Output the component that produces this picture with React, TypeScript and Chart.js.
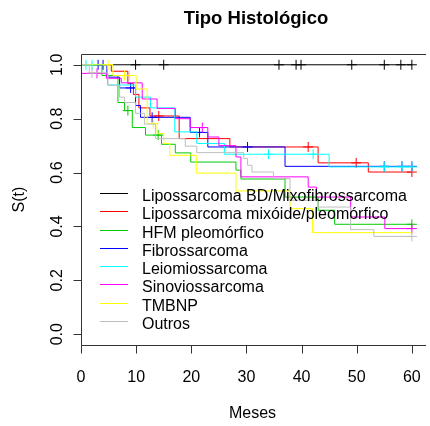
import React, { useEffect, useRef } from "react";
import { Chart, registerables } from "chart.js";

Chart.register(...registerables);

const TITLE = "Tipo Histológico";
const X_TITLE = "Meses";
const Y_TITLE = "S(t)";
const X_TICKS = [0, 10, 20, 30, 40, 50, 60];
const Y_TICKS = [0, 0.2, 0.4, 0.6, 0.8, 1.0];
const Y_TICK_LABELS = ["0.0", "0.2", "0.4", "0.6", "0.8", "1.0"];

const GROUPS = [
  "Lipossarcoma BD/Mixofibrossarcoma",
  "Lipossarcoma mixóide/pleomórfico",
  "HFM pleomórfico",
  "Fibrossarcoma",
  "Leiomiossarcoma",
  "Sinoviossarcoma",
  "TMBNP",
  "Outros",
];
const COLORS = ["#000000", "#FF0000", "#00CD00", "#0000FF", "#00FFFF", "#FF00FF", "#FFFF00", "#BEBEBE"];

// Black: Lipossarcoma BD/Mixofibrossarcoma
const T_BD = [0, 60];
const S_BD = [1, 1];
const C_BD = [9.9, 15, 35.9, 39, 39.9, 49.1, 55, 58, 60];

// Red: Lipossarcoma mixóide/pleomórfico
const T_MIX = [0, 5.5, 8.5, 9.5, 10.5, 12.5, 17.8, 27, 43, 52.1, 60];
const S_MIX = [1, 0.976, 0.93, 0.89, 0.84, 0.81, 0.726, 0.695, 0.636, 0.602, 0.602];
const C_MIX = [14.1, 41.2, 49.9, 60];

// Green: HFM pleomórfico
const T_HFM = [0, 3.8, 6.7, 7.9, 9.3, 11.7, 14.6, 17.1, 19.9, 28.1, 29, 37, 43, 46, 60];
const S_HFM = [1, 0.96, 0.86, 0.83, 0.767, 0.739, 0.705, 0.673, 0.639, 0.609, 0.576, 0.509, 0.46, 0.408, 0.408];
const C_HFM = [8.5, 14, 60];

// Blue: Fibrossarcoma
const T_FIB = [0, 4.7, 7, 9.9, 10.8, 19.8, 23, 37, 60];
const S_FIB = [1, 0.954, 0.914, 0.849, 0.805, 0.749, 0.695, 0.623, 0.623];
const C_FIB = [3.1, 4, 9, 12.9, 21.5, 30.2, 55, 58.2, 60];

// Cyan: Leiomiossarcoma
const T_LEI = [0, 4.8, 9.9, 12.6, 17, 21, 26, 45, 60];
const S_LEI = [1, 0.925, 0.88, 0.84, 0.751, 0.708, 0.668, 0.621, 0.621];
const C_LEI = [0.9, 2, 34, 42.1, 55, 58.2, 60];

// Magenta: Sinoviossarcoma
const T_SIN = [0, 4.6, 7.3, 11.1, 13.8, 17.1, 19.8, 23, 25, 28.1, 29, 41.2, 42.7, 48.9, 55.1, 60];
const S_SIN = [0.968, 0.95, 0.933, 0.873, 0.838, 0.8, 0.767, 0.732, 0.7, 0.658, 0.584, 0.546, 0.509, 0.435, 0.392, 0.392];
const C_SIN = [2.9, 22, 60];

// Yellow: TMBNP
const T_TMB = [0, 5.8, 10, 12, 13.8, 15, 16.1, 20.9, 28.1, 37.9, 42, 60];
const S_TMB = [1, 0.96, 0.91, 0.782, 0.745, 0.708, 0.664, 0.598, 0.532, 0.466, 0.377, 0.377];
const C_TMB = [4.9, 7.9, 8.8, 13.1];

// Gray: Outros
const T_OUT = [0, 1.5, 4.9, 7, 7.9, 9.9, 11.5, 13.5, 18.9, 21, 29.5, 30.2, 31, 34.9, 37.9, 43, 48.9, 53.1, 60];
const S_OUT = [1, 0.97, 0.924, 0.88, 0.86, 0.82, 0.78, 0.726, 0.698, 0.674, 0.652, 0.627, 0.602, 0.578, 0.497, 0.472, 0.388, 0.363, 0.363];
const C_OUT = [2, 60];

const SERIES_T = [T_BD, T_MIX, T_HFM, T_FIB, T_LEI, T_SIN, T_TMB, T_OUT];
const SERIES_S = [S_BD, S_MIX, S_HFM, S_FIB, S_LEI, S_SIN, S_TMB, S_OUT];
const SERIES_C = [C_BD, C_MIX, C_HFM, C_FIB, C_LEI, C_SIN, C_TMB, C_OUT];

const FONT = '"Liberation Sans", Arial, Helvetica, sans-serif';

function stepAt(T: number[], S: number[], t: number) {
  let v = S[0];
  for (let i = 0; i < T.length; i++) if (T[i] <= t) v = S[i];
  return v;
}

const decorPlugin = {
  id: "decor",
  afterDraw(chart: any) {
    const ctx = chart.ctx;
    const { left, right, top, bottom } = chart.chartArea;
    const xs = chart.scales.x;
    const ys = chart.scales.y;
    ctx.save();
    ctx.strokeStyle = "#333333";
    ctx.lineWidth = 1;
    const L = Math.round(left) + 0.5;
    const T = Math.round(top) + 0.5;
    const B = Math.round(bottom) + 0.5;
    ctx.beginPath();
    ctx.moveTo(right + 2, T);
    ctx.lineTo(L, T);
    ctx.lineTo(L, B);
    ctx.lineTo(right + 2, B);
    ctx.stroke();
    ctx.fillStyle = "#000000";
    ctx.font = `16px ${FONT}`;
    ctx.textAlign = "center";
    ctx.textBaseline = "alphabetic";
    X_TICKS.forEach((v) => {
      const px = Math.round(xs.getPixelForValue(v)) + 0.5;
      ctx.beginPath();
      ctx.moveTo(px, B);
      ctx.lineTo(px, B + 8);
      ctx.stroke();
      ctx.fillText(String(v), xs.getPixelForValue(v), 382);
    });
    Y_TICKS.forEach((v, i) => {
      const py = Math.round(ys.getPixelForValue(v)) + 0.5;
      ctx.beginPath();
      ctx.moveTo(L, py);
      ctx.lineTo(L - 8, py);
      ctx.stroke();
      ctx.save();
      ctx.translate(62, ys.getPixelForValue(v));
      ctx.rotate(-Math.PI / 2);
      ctx.fillText(Y_TICK_LABELS[i], 0, 0);
      ctx.restore();
    });
    ctx.fillText(X_TITLE, (left + right) / 2, 418);
    ctx.save();
    ctx.translate(24, (top + bottom) / 2);
    ctx.rotate(-Math.PI / 2);
    ctx.fillText(Y_TITLE, 0, 0);
    ctx.restore();
    ctx.font = `bold 18.5px ${FONT}`;
    ctx.fillText(TITLE, 256, 24);
    ctx.font = `16px ${FONT}`;
    ctx.textAlign = "left";
    GROUPS.forEach((name, i) => {
      const ry = Math.round(192.9 + 18.3 * i) + 0.5;
      ctx.strokeStyle = COLORS[i];
      ctx.beginPath();
      ctx.moveTo(100, ry);
      ctx.lineTo(128, ry);
      ctx.stroke();
      ctx.fillStyle = "#000000";
      ctx.fillText(name, 142, ry + 7);
    });
    ctx.restore();
  },
};

export default function App() {
  const ref = useRef<HTMLCanvasElement | null>(null);
  useEffect(() => {
    document.body.style.margin = "0";
    if (!ref.current) return;
    const datasets: any[] = [];
    GROUPS.forEach((name, i) => {
      datasets.push({
        label: name,
        data: SERIES_T[i].map((t, j) => ({ x: t, y: SERIES_S[i][j] })),
        borderColor: COLORS[i],
        backgroundColor: COLORS[i],
        borderWidth: 1,
        stepped: "before",
        pointRadius: 0,
        fill: false,
        order: 2 * (GROUPS.length - i) + 1,
      });
      datasets.push({
        label: name + " censor",
        data: SERIES_C[i].map((t) => ({ x: t, y: stepAt(SERIES_T[i], SERIES_S[i], t) })),
        borderColor: COLORS[i],
        backgroundColor: COLORS[i],
        showLine: false,
        pointStyle: "cross",
        pointRadius: 5,
        pointBorderWidth: 1,
        order: 2 * (GROUPS.length - i),
      });
    });
    const chart = new Chart(ref.current, {
      type: "line",
      data: { datasets },
      options: {
        animation: false,
        responsive: false,
        maintainAspectRatio: false,
        layout: { padding: { left: 81, top: 54, right: 0, bottom: 81 } },
        scales: {
          x: { type: "linear", min: 0, max: 62.2, display: false },
          y: { type: "linear", min: -0.04, max: 1.04, display: false },
        },
        plugins: { legend: { display: false }, title: { display: false }, tooltip: { enabled: false } },
      },
      plugins: [decorPlugin],
    });
    return () => chart.destroy();
  }, []);
  return <canvas ref={ref} width={430} height={426} style={{ display: "block", width: 430, height: 426 }} />;
}
